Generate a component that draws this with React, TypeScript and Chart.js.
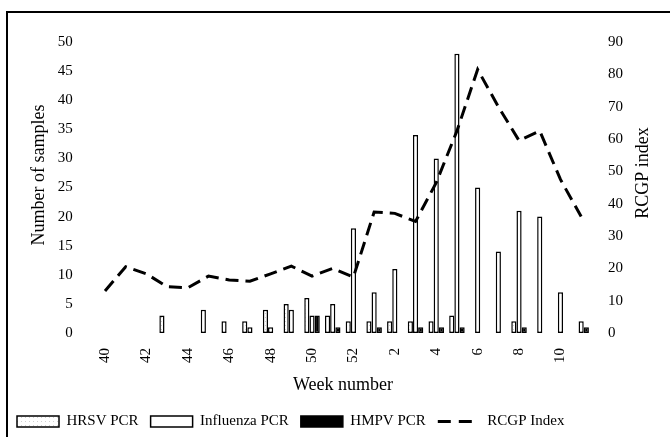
import React, { useEffect, useRef } from 'react';
import { Chart, registerables } from 'chart.js';

Chart.register(...registerables);

const weeks = ['40','41','42','43','44','45','46','47','48','49','50','51','52','1','2','3','4','5','6','7','8','9','10','11'];
const hrsvPcr = [0,0,0,3,0,4,2,2,4,5,6,3,2,2,2,2,2,3,0,0,2,0,0,0];
const influenzaPcr = [0,0,0,0,0,0,0,1,1,4,3,5,18,7,11,34,30,48,25,14,21,20,7,2];
const hmpvPcr = [0,0,0,0,0,0,0,0,0,0,3,1,0,1,0,1,1,1,0,0,1,0,0,1];
const rcgpIndex = [13,20.5,18.3,14.3,14,17.6,16.4,16,18.3,20.7,17.6,20,17.3,37.4,37,34.5,46.5,62.5,81.5,70,59.5,62.5,47.5,36];

const seriesNames = ['HRSV PCR', 'Influenza PCR', 'HMPV PCR', 'RCGP Index'];
const leftTitle = 'Number of samples';
const rightTitle = 'RCGP index';
const xTitle = 'Week number';

const FONT = '"Liberation Serif", "Times New Roman", serif';

function makeStipple(): CanvasPattern | string {
  const c = document.createElement('canvas');
  c.width = 4; c.height = 4;
  const g = c.getContext('2d');
  if (!g) return '#fff';
  g.fillStyle = '#fff';
  g.fillRect(0, 0, 4, 4);
  g.fillStyle = '#d0d0d0';
  g.fillRect(1, 1, 1, 1);
  const p = g.createPattern(c, 'repeat');
  return p || '#fff';
}

const titlePlugin = {
  id: 'sideTitles',
  afterDraw(chart: any) {
    const ctx = chart.ctx;
    ctx.save();
    ctx.font = `18px ${FONT}`;
    ctx.fillStyle = '#000';
    ctx.textAlign = 'center';
    ctx.textBaseline = 'middle';
    ctx.save();
    ctx.translate(39, 175);
    ctx.rotate(-Math.PI / 2);
    ctx.fillText(leftTitle, 0, 0);
    ctx.restore();
    ctx.save();
    ctx.translate(643, 173);
    ctx.rotate(-Math.PI / 2);
    ctx.fillText(rightTitle, 0, 0);
    ctx.restore();
    ctx.restore();
  },
};

export default function App() {
  const ref = useRef<HTMLCanvasElement | null>(null);

  useEffect(() => {
    const canvas = ref.current;
    if (!canvas) return;
    const stipple = makeStipple();
    const chart = new Chart(canvas, {
      type: 'bar',
      data: {
        labels: weeks,
        datasets: [
          {
            type: 'bar',
            label: seriesNames[0],
            data: hrsvPcr,
            backgroundColor: stipple as any,
            borderColor: '#000',
            borderWidth: 1.5,
            borderSkipped: false,
            categoryPercentage: 0.75,
            barPercentage: 1.0,
            yAxisID: 'y',
            order: 1,
          },
          {
            type: 'bar',
            label: seriesNames[1],
            data: influenzaPcr,
            backgroundColor: '#fff',
            borderColor: '#000',
            borderWidth: 1.5,
            borderSkipped: false,
            categoryPercentage: 0.75,
            barPercentage: 1.0,
            yAxisID: 'y',
            order: 1,
          },
          {
            type: 'bar',
            label: seriesNames[2],
            data: hmpvPcr,
            backgroundColor: '#000',
            borderColor: '#000',
            borderWidth: 1.5,
            borderSkipped: false,
            categoryPercentage: 0.75,
            barPercentage: 1.0,
            yAxisID: 'y',
            order: 1,
          },
          {
            type: 'line',
            label: seriesNames[3],
            data: rcgpIndex,
            borderColor: '#000',
            backgroundColor: '#000',
            borderWidth: 3,
            borderDash: [13, 7],
            pointRadius: 0,
            tension: 0,
            fill: false,
            yAxisID: 'y1',
            order: 0,
          } as any,
        ],
      },
      options: {
        responsive: false,
        animation: false,
        devicePixelRatio: 1,
        layout: { padding: { left: 5, right: 0, top: 42, bottom: -2 } },
        font: { family: FONT },
        color: '#000',
        scales: {
          x: {
            type: 'category',
            offset: true,
            grid: { display: false, drawTicks: false },
            border: { display: false },
            ticks: {
              autoSkip: false,
              maxRotation: 90,
              minRotation: 90,
              padding: 15,
              color: '#000',
              font: { family: FONT, size: 15 },
              callback: (_v: any, i: number) => (i % 2 === 0 ? weeks[i] : ''),
            },
            title: {
              display: true,
              text: xTitle,
              color: '#000',
              font: { family: FONT, size: 18 },
              padding: { top: 0, bottom: 6 },
            },
            afterFit: (s: any) => { s.height = 69; },
          },
          y: {
            position: 'left',
            min: 0,
            max: 50,
            grid: { display: false, drawTicks: false },
            border: { display: false },
            ticks: {
              stepSize: 5,
              padding: 22,
              color: '#000',
              font: { family: FONT, size: 15 },
            },
            title: { display: false, text: leftTitle },
            afterFit: (s: any) => { s.width = 89.65; },
          },
          y1: {
            position: 'right',
            min: 0,
            max: 90,
            grid: { display: false, drawTicks: false },
            border: { display: false },
            ticks: {
              stepSize: 10,
              padding: 16.5,
              color: '#000',
              font: { family: FONT, size: 15 },
            },
            title: { display: false, text: rightTitle },
            afterFit: (s: any) => { s.width = 78.5; },
          },
        },
        plugins: {
          legend: {
            display: true,
            position: 'bottom',
            align: 'start',
            labels: {
              usePointStyle: true,
              pointStyleWidth: 42,
              boxHeight: 11,
              padding: 12,
              color: '#000',
              font: { family: FONT, size: 15 },
              sort: (a: any, b: any) => a.datasetIndex - b.datasetIndex,
              generateLabels: (c: any) => {
                const base = (Chart.defaults.plugins.legend.labels as any).generateLabels(c);
                return base.map((it: any) => {
                  if (it.datasetIndex === 3) {
                    return { ...it, pointStyle: 'line', lineDash: [13, 8], lineWidth: 3, strokeStyle: '#000', fillStyle: '#000' };
                  }
                  return { ...it, pointStyle: 'rect', lineWidth: 1.5, strokeStyle: '#000' };
                });
              },
            },
          },
          tooltip: { enabled: false },
        },
      },
      plugins: [titlePlugin],
    });
    return () => chart.destroy();
  }, []);

  return (
    <div style={{ position: 'fixed', left: 0, top: 0, width: 670, height: 437, background: '#fff', overflow: 'hidden' }}>
      <canvas ref={ref} width={670} height={437} style={{ width: 670, height: 437, display: 'block' }} />
      <div
        style={{
          position: 'absolute',
          left: 6,
          top: 11,
          width: 700,
          height: 500,
          borderTop: '2px solid #000',
          borderLeft: '2px solid #000',
          pointerEvents: 'none',
        }}
      />
    </div>
  );
}
